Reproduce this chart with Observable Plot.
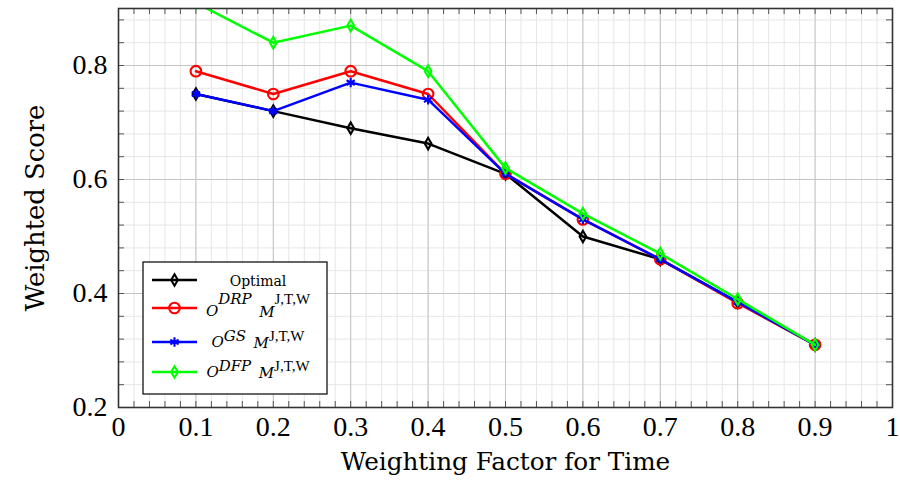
<!DOCTYPE html>
<html>
<head>
<meta charset="utf-8">
<script src="https://cdn.jsdelivr.net/npm/d3@7"></script>
<script src="https://cdn.jsdelivr.net/npm/@observablehq/plot@0.6"></script>
<style>
  html, body { margin: 0; padding: 0; background: #fff; }
  #chart { width: 900px; height: 488px; }
</style>
</head>
<body>
<div id="chart"></div>
<script>
// Weighting factor for time (x) and the weighted score reached by each method (y)
const factors   = [0.1, 0.2, 0.3, 0.4, 0.5, 0.6, 0.7, 0.8, 0.9];
const optimal   = [0.75, 0.72, 0.69, 0.663, 0.61, 0.50, 0.46, 0.385, 0.31];
const drp       = [0.79, 0.75, 0.79, 0.75, 0.61, 0.53, 0.46, 0.383, 0.31];
const gs        = [0.75, 0.72, 0.77, 0.74, 0.61, 0.53, 0.46, 0.385, 0.31];
const dfp       = [0.91, 0.84, 0.87, 0.79, 0.62, 0.54, 0.47, 0.39, 0.31];

// Tick labels and axis titles
const xTicks = [0, 0.1, 0.2, 0.3, 0.4, 0.5, 0.6, 0.7, 0.8, 0.9, 1];
const yTicks = [0.2, 0.4, 0.6, 0.8];
const xLabel = "Weighting Factor for Time";
const yLabel = "Weighted Score";

// Series, in drawing order, and the superscripts used in their legend names
const seriesKeys = ["Optimal", "DRP", "GS", "DFP"];
const legendSup  = [null, "DRP", "GS", "DFP"];
const legendIndex = "J,T,W";

const width = 900, height = 488;
const margin = {left: 118, right: 8, top: 8, bottom: 81};
const innerW = width - margin.left - margin.right;
const innerH = height - margin.top - margin.bottom;

// Fine grid positions
const xMinor = d3.range(0, 51).map(i => +(i * 0.02).toFixed(2));
const yMinor = d3.range(5, 23).map(i => +(i * 0.04).toFixed(2));

const styles = {
  Optimal: {values: optimal, color: "#000000", symbol: "diamond", r: 3.5},
  DRP:     {values: drp,     color: "#ff0000", symbol: "circle",  r: 5.3},
  GS:      {values: gs,      color: "#0000ff", symbol: "asterisk", r: 4.5},
  DFP:     {values: dfp,     color: "#00ff00", symbol: "diamond", r: 3.5}
};

const seriesMarks = seriesKeys.flatMap(key => {
  const s = styles[key];
  const rows = factors.map((x, i) => ({x, y: s.values[i]}));
  return [
    Plot.line(rows, {x: "x", y: "y", stroke: s.color, strokeWidth: 2.5, clip: true}),
    Plot.dot(rows, {x: "x", y: "y", symbol: () => s.symbol, r: s.r, stroke: s.color,
                    fill: "none", strokeWidth: 2.1, clip: true})
  ];
});

const gridMinor = "#e6e6e6", gridMajor = "#c4c4c4", tickColor = "#555";
const tickFont = "Liberation Serif", titleFont = "DejaVu Serif";

const svg = Plot.plot({
  width, height,
  marginLeft: margin.left, marginRight: margin.right,
  marginTop: margin.top, marginBottom: margin.bottom,
  style: {background: "#fff", overflow: "visible"},
  x: {domain: [0, 1], label: null},
  y: {domain: [0.2, 0.9], label: null},
  symbol: {type: "identity"},
  marks: [
    Plot.ruleX(xMinor, {x: d => d, stroke: gridMinor, strokeWidth: 1}),
    Plot.ruleY(yMinor, {y: d => d, stroke: gridMinor, strokeWidth: 1}),
    Plot.ruleX(xTicks, {x: d => d, stroke: gridMajor, strokeWidth: 1}),
    Plot.ruleY(yTicks, {y: d => d, stroke: gridMajor, strokeWidth: 1}),
    // inward ticks on all four sides
    Plot.tickX(xMinor, {x: d => d, insetTop: innerH - 6, stroke: tickColor, strokeWidth: 1}),
    Plot.tickX(xMinor, {x: d => d, insetBottom: innerH - 6, stroke: tickColor, strokeWidth: 1}),
    Plot.tickY(yMinor, {y: d => d, insetRight: innerW - 6, stroke: tickColor, strokeWidth: 1}),
    Plot.tickY(yMinor, {y: d => d, insetLeft: innerW - 6, stroke: tickColor, strokeWidth: 1}),
    ...seriesMarks,
    Plot.frame({stroke: "#333", strokeWidth: 1.6}),
    Plot.axisX(xTicks, {tickSize: 0, tickPadding: 9, tickFormat: d => `${d}`,
                        fontSize: 28, fontFamily: tickFont, label: null}),
    Plot.axisY(yTicks, {tickSize: 0, tickPadding: 11, tickFormat: d => `${d}`,
                        fontSize: 28, fontFamily: tickFont, label: null}),
    Plot.text([xLabel], {text: d => d, frameAnchor: "bottom", textAnchor: "middle", dy: 62,
                         fontSize: 24.7, fontFamily: titleFont, fill: "#000"}),
    Plot.text([yLabel], {text: d => d, frameAnchor: "left", textAnchor: "middle", rotate: -90, dx: -83,
                         fontSize: 25.8, fontFamily: titleFont, fill: "#000"})
  ]
});

// Legend box inside the plot area
const legend = {
  x: 143, y: 262, w: 184, h: 132,
  lineY: [280, 308, 342, 372],
  baseY: [286, 316, 347, 377],
  supY:  [286, 304, 341, 371],
  lineX: [152, 197], textX: 258
};
const g = d3.select(svg).append("g").attr("class", "legend");
g.append("rect")
  .attr("x", legend.x).attr("y", legend.y).attr("width", legend.w).attr("height", legend.h)
  .attr("fill", "#fff").attr("stroke", "#000").attr("stroke-width", 1.2);

const symbolType = {diamond: d3.symbolDiamond, circle: d3.symbolCircle, asterisk: d3.symbolAsterisk};

seriesKeys.forEach((key, i) => {
  const s = styles[key];
  const cy = legend.lineY[i];
  const cx = (legend.lineX[0] + legend.lineX[1]) / 2;
  g.append("line")
    .attr("x1", legend.lineX[0]).attr("x2", legend.lineX[1]).attr("y1", cy).attr("y2", cy)
    .attr("stroke", s.color).attr("stroke-width", 2.5);
  g.append("path")
    .attr("transform", `translate(${cx},${cy})`)
    .attr("d", d3.symbol(symbolType[s.symbol], Math.PI * s.r * s.r)())
    .attr("fill", "none").attr("stroke", s.color).attr("stroke-width", 2.1);

  const t = g.append("text")
    .attr("x", legend.textX).attr("y", legend.baseY[i])
    .attr("text-anchor", "middle")
    .attr("font-family", titleFont).attr("font-size", 14).attr("fill", "#000");
  const sup = legendSup[i];
  if (sup === null) {
    t.text(key);
  } else {
    const rise = legend.baseY[i] - legend.supY[i];
    t.append("tspan").attr("font-style", "italic").attr("font-size", 15).text("O");
    t.append("tspan").attr("font-style", "italic").attr("font-size", 15).attr("dy", -rise).text(sup);
    t.append("tspan").attr("dy", rise + 1).attr("font-size", 15).text("\u2002");
    t.append("tspan").attr("font-style", "italic").attr("font-size", 15).text("M");
    t.append("tspan").attr("font-family", tickFont).attr("font-size", 15).attr("dy", -rise - 1).text(legendIndex);
  }
});

document.getElementById("chart").appendChild(svg);
</script>
</body>
</html>
